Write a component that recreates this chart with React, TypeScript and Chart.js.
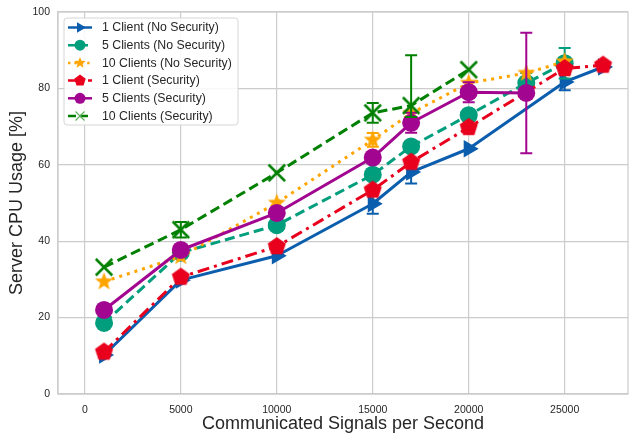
import React, { useEffect, useRef } from 'react';
import { Chart, registerables } from 'chart.js';

Chart.register(...registerables);

// ---------- data ----------
const SERIES_NAMES = [
  '1 Client (No Security)',
  '5 Clients (No Security)',
  '10 Clients (No Security)',
  '1 Client (Security)',
  '5 Clients (Security)',
  '10 Clients (Security)',
];

const X_1C_NS = [1000, 5000, 10000, 15000, 17000, 20000, 25000, 27000];
const Y_1C_NS = [10.2, 29.8, 36.2, 49.8, 58.1, 64.2, 81.7, 85.6];
const E_1C_NS: (number[] | null)[] = [null, null, null, [2.6, 2.6], [3, 3], null, [2.2, 2.2], null];

const X_5C_NS = [1000, 5000, 10000, 15000, 17000, 20000, 23000, 25000];
const Y_5C_NS = [18.6, 37.0, 44.2, 57.4, 64.8, 73.0, 81.4, 86.6];
const E_5C_NS: (number[] | null)[] = [null, null, null, null, null, null, [2.6, 2.6], [4, 4]];

const X_10C_NS = [1000, 5000, 10000, 15000, 17000, 20000, 23000, 25000];
const Y_10C_NS = [29.4, 36.0, 50.0, 66.5, 73.5, 81.4, 84.0, 87.0];
const E_10C_NS: (number[] | null)[] = [null, null, null, [1.8, 1.8], null, null, null, null];

const X_1C_S = [1000, 5000, 10000, 15000, 17000, 20000, 25000, 27000];
const Y_1C_S = [11.0, 30.6, 38.6, 53.4, 60.7, 69.8, 85.2, 86.1];
const E_1C_S: (number[] | null)[] = [null, null, null, null, null, null, null, null];

const X_5C_S = [1000, 5000, 10000, 15000, 17000, 20000, 23000];
const Y_5C_S = [22.0, 37.7, 47.4, 61.9, 71.0, 79.0, 78.8];
const E_5C_S: (number[] | null)[] = [null, null, null, null, [2.6, 2.6], [2.6, 2.6], [15.8, 15.8]];

const X_10C_S = [1000, 5000, 10000, 15000, 17000, 20000];
const Y_10C_S = [33.2, 43.0, 57.9, 73.6, 75.5, 84.9];
const E_10C_S: (number[] | null)[] = [null, [2, 2], null, [2.6, 2.6], [3, 13.2], null];

const X_TICKS = [0, 5000, 10000, 15000, 20000, 25000];
const Y_TICKS = [0, 20, 40, 60, 80, 100];

const X_TITLE = 'Communicated Signals per Second';
const Y_TITLE = 'Server CPU Usage [%]';

// ---------- styles ----------
const FONT = "'Liberation Sans', Arial, sans-serif";
const TEXT = '#262626';
const GRID = '#cccccc';

type Kind = 'triangle' | 'circle' | 'star' | 'pentagon' | 'x';
const STYLES: { color: string; dash: number[]; kind: Kind }[] = [
  { color: '#0b5dad', dash: [], kind: 'triangle' },
  { color: '#009e7c', dash: [10, 5], kind: 'circle' },
  { color: '#ffa500', dash: [3, 5], kind: 'star' },
  { color: '#e8001c', dash: [12, 5, 3, 5], kind: 'pentagon' },
  { color: '#a2058f', dash: [], kind: 'circle' },
  { color: '#008000', dash: [10, 5], kind: 'x' },
];

function shapePath(ctx: CanvasRenderingContext2D, kind: Kind, cx: number, cy: number, r: number) {
  ctx.beginPath();
  if (kind === 'circle') {
    ctx.arc(cx, cy, r, 0, Math.PI * 2);
  } else if (kind === 'triangle') {
    for (let k = 0; k < 3; k++) {
      const a = (k * 2 * Math.PI) / 3;
      const px = cx + r * Math.cos(a);
      const py = cy + r * Math.sin(a);
      k === 0 ? ctx.moveTo(px, py) : ctx.lineTo(px, py);
    }
  } else if (kind === 'pentagon') {
    for (let k = 0; k < 5; k++) {
      const a = -Math.PI / 2 + (k * 2 * Math.PI) / 5;
      const px = cx + r * Math.cos(a);
      const py = cy + r * Math.sin(a);
      k === 0 ? ctx.moveTo(px, py) : ctx.lineTo(px, py);
    }
  } else if (kind === 'star') {
    for (let k = 0; k < 10; k++) {
      const rr = k % 2 ? r * 0.42 : r;
      const a = -Math.PI / 2 + (k * Math.PI) / 5;
      const px = cx + rr * Math.cos(a);
      const py = cy + rr * Math.sin(a);
      k === 0 ? ctx.moveTo(px, py) : ctx.lineTo(px, py);
    }
  } else {
    const d = r * 0.75;
    ctx.moveTo(cx - d, cy - d);
    ctx.lineTo(cx + d, cy + d);
    ctx.moveTo(cx + d, cy - d);
    ctx.lineTo(cx - d, cy + d);
  }
  if (kind !== 'x') ctx.closePath();
}

function drawMarker(ctx: CanvasRenderingContext2D, kind: Kind, cx: number, cy: number, r: number, color: string, lw: number) {
  ctx.save();
  if (kind === 'x') {
    shapePath(ctx, kind, cx, cy, r);
    ctx.strokeStyle = color;
    ctx.lineWidth = lw;
    ctx.setLineDash([]);
    ctx.stroke();
  } else {
    shapePath(ctx, kind, cx, cy, r);
    ctx.fillStyle = color;
    ctx.fill();
  }
  ctx.restore();
}

function markerCanvas(kind: Kind, r: number, color: string, lw: number) {
  const s = Math.ceil(r * 2 + 6);
  const c = document.createElement('canvas');
  c.width = s;
  c.height = s;
  const ctx = c.getContext('2d')!;
  drawMarker(ctx, kind, s / 2, s / 2, r, color, lw);
  return c;
}

const MARKER_R: Record<Kind, number> = { triangle: 10, circle: 9, star: 9.5, pentagon: 9.5, x: 11 };

// ---------- plugins ----------
const errorBarPlugin = {
  id: 'errorBars',
  beforeDatasetDraw(chart: any, args: any) {
    const ds = chart.data.datasets[args.index];
    const errs = ds.errors as (number[] | null)[] | undefined;
    if (!errs) return;
    const { ctx, chartArea, scales } = chart;
    ctx.save();
    ctx.beginPath();
    ctx.rect(chartArea.left, chartArea.top, chartArea.right - chartArea.left, chartArea.bottom - chartArea.top);
    ctx.clip();
    ctx.strokeStyle = ds.borderColor;
    ctx.lineWidth = 2;
    ctx.setLineDash([]);
    ds.data.forEach((p: any, i: number) => {
      const e = errs[i];
      if (!e) return;
      const px = scales.x.getPixelForValue(p.x);
      const yt = scales.y.getPixelForValue(p.y + e[1]);
      const yb = scales.y.getPixelForValue(p.y - e[0]);
      ctx.beginPath();
      ctx.moveTo(px, yt);
      ctx.lineTo(px, yb);
      ctx.moveTo(px - 6, yt);
      ctx.lineTo(px + 6, yt);
      ctx.moveTo(px - 6, yb);
      ctx.lineTo(px + 6, yb);
      ctx.stroke();
    });
    ctx.restore();
  },
};

const framePlugin = {
  id: 'frame',
  beforeDatasetsDraw(chart: any) {
    const { ctx, chartArea } = chart;
    ctx.save();
    ctx.strokeStyle = GRID;
    ctx.lineWidth = 1.2;
    ctx.strokeRect(chartArea.left, chartArea.top, chartArea.right - chartArea.left, chartArea.bottom - chartArea.top);
    ctx.restore();
  },
};

const legendPlugin = {
  id: 'innerLegend',
  afterDraw(chart: any) {
    const { ctx, chartArea } = chart;
    const x0 = chartArea.left + 6;
    const y0 = chartArea.top + 6;
    const w = 174;
    const h = 107;
    const rad = 3;
    ctx.save();
    ctx.beginPath();
    ctx.moveTo(x0 + rad, y0);
    ctx.lineTo(x0 + w - rad, y0);
    ctx.arcTo(x0 + w, y0, x0 + w, y0 + rad, rad);
    ctx.lineTo(x0 + w, y0 + h - rad);
    ctx.arcTo(x0 + w, y0 + h, x0 + w - rad, y0 + h, rad);
    ctx.lineTo(x0 + rad, y0 + h);
    ctx.arcTo(x0, y0 + h, x0, y0 + h - rad, rad);
    ctx.lineTo(x0, y0 + rad);
    ctx.arcTo(x0, y0, x0 + rad, y0, rad);
    ctx.closePath();
    ctx.fillStyle = 'rgba(255,255,255,0.85)';
    ctx.fill();
    ctx.strokeStyle = '#d6d6d6';
    ctx.lineWidth = 1;
    ctx.stroke();

    chart.data.datasets.forEach((ds: any, i: number) => {
      const st = STYLES[i];
      const cy = y0 + 9.5 + i * 17.7;
      ctx.beginPath();
      ctx.setLineDash(st.dash.map((d) => d * 0.8));
      ctx.strokeStyle = st.color;
      ctx.lineWidth = 2.5;
      ctx.lineCap = 'butt';
      ctx.moveTo(x0 + 4, cy);
      ctx.lineTo(x0 + 28, cy);
      ctx.stroke();
      ctx.setLineDash([]);
      const r = st.kind === 'x' ? 6 : st.kind === 'circle' ? 5.5 : 6;
      drawMarker(ctx, st.kind, x0 + 16, cy, r, st.kind === 'x' ? '#5fb05f' : st.color, 1.2);
      ctx.fillStyle = TEXT;
      ctx.font = `12.3px ${FONT}`;
      ctx.textBaseline = 'middle';
      ctx.textAlign = 'left';
      ctx.fillText(ds.label, x0 + 38, cy + 0.5);
    });
    ctx.restore();
  },
};

function toPoints(xs: number[], ys: number[]) {
  return xs.map((x, i) => ({ x, y: ys[i] }));
}

export default function App() {
  const ref = useRef<HTMLCanvasElement | null>(null);

  useEffect(() => {
    if (!ref.current) return;
    const raw = [
      [X_1C_NS, Y_1C_NS, E_1C_NS],
      [X_5C_NS, Y_5C_NS, E_5C_NS],
      [X_10C_NS, Y_10C_NS, E_10C_NS],
      [X_1C_S, Y_1C_S, E_1C_S],
      [X_5C_S, Y_5C_S, E_5C_S],
      [X_10C_S, Y_10C_S, E_10C_S],
    ] as [number[], number[], (number[] | null)[]][];

    const datasets = raw.map(([xs, ys, es], i) => {
      const st = STYLES[i];
      const base: any = {
        label: SERIES_NAMES[i],
        data: toPoints(xs, ys),
        errors: es,
        borderColor: st.color,
        backgroundColor: st.color,
        borderWidth: 3,
        borderDash: st.dash,
        borderCapStyle: 'butt',
        borderJoinStyle: 'round',
        tension: 0,
        fill: false,
        order: 6 - i,
        pointHoverRadius: 0,
      };
      if (st.kind === 'circle') {
        base.pointStyle = 'circle';
        base.pointRadius = MARKER_R.circle;
        base.pointBorderWidth = 0;
        base.pointBackgroundColor = st.color;
      } else if (st.kind === 'triangle') {
        base.pointStyle = 'triangle';
        base.pointRadius = MARKER_R.triangle;
        base.pointRotation = 90;
        base.pointBorderWidth = 0;
        base.pointBackgroundColor = st.color;
      } else if (st.kind === 'x') {
        base.pointStyle = markerCanvas('x', MARKER_R.x, st.color, 2.5);
        base.pointRadius = MARKER_R.x;
      } else {
        base.pointStyle = markerCanvas(st.kind, MARKER_R[st.kind], st.color, 0);
        base.pointRadius = MARKER_R[st.kind];
      }
      return base;
    });

    const chart = new Chart(ref.current, {
      type: 'line',
      data: { datasets },
      plugins: [framePlugin, errorBarPlugin, legendPlugin],
      options: {
        animation: false,
        responsive: false,
        maintainAspectRatio: false,
        events: [],
        layout: { autoPadding: false, padding: { top: 12, right: 3, left: 0, bottom: 0 } },
        plugins: { legend: { display: false }, tooltip: { enabled: false } },
        scales: {
          x: {
            type: 'linear',
            min: -1400,
            max: 28300,
            afterBuildTicks: (s: any) => {
              s.ticks = X_TICKS.map((v) => ({ value: v }));
            },
            afterFit: (s: any) => {
              s.height = 39;
              s.paddingLeft = 0;
              s.paddingRight = 0;
            },
            ticks: {
              autoSkip: false,
              maxRotation: 0,
              padding: 10,
              color: TEXT,
              font: { family: FONT, size: 10.5 },
              callback: (v: any) => String(v),
            },
            grid: { color: GRID, lineWidth: 1.2, drawTicks: false },
            border: { color: GRID, width: 1.2 },
            title: {
              display: true,
              text: X_TITLE,
              color: TEXT,
              font: { family: FONT, size: 18, lineHeight: 1 },
              padding: { top: 0, bottom: 0 },
            },
          },
          y: {
            type: 'linear',
            min: 0,
            max: 100,
            afterBuildTicks: (s: any) => {
              s.ticks = Y_TICKS.map((v) => ({ value: v }));
            },
            afterFit: (s: any) => {
              s.width = 58;
              s.paddingTop = 0;
              s.paddingBottom = 0;
            },
            ticks: {
              padding: 8,
              color: TEXT,
              font: { family: FONT, size: 10.5 },
              callback: (v: any) => String(v),
            },
            grid: { color: GRID, lineWidth: 1.2, drawTicks: false },
            border: { color: GRID, width: 1.2 },
            title: {
              display: true,
              text: Y_TITLE,
              color: TEXT,
              font: { family: FONT, size: 18, lineHeight: 1 },
              padding: { top: 8, bottom: 0 },
            },
          },
        },
      } as any,
    });
    return () => chart.destroy();
  }, []);

  return (
    <div style={{ position: 'fixed', left: 0, top: 0, width: 631, height: 433, background: '#fff' }}>
      <canvas ref={ref} width={631} height={433} style={{ display: 'block', width: 631, height: 433 }} />
    </div>
  );
}
